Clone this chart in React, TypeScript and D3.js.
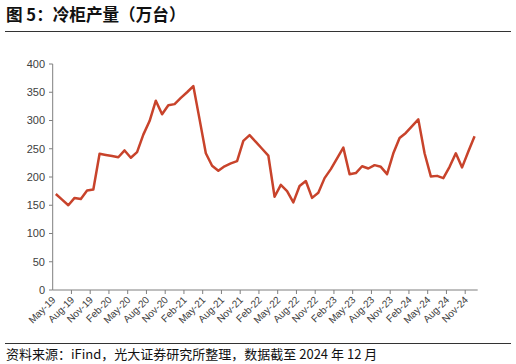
import { useEffect, useRef } from "react";
import * as d3 from "d3";

// monthly output, May-19 .. Dec-24 (万台)
const months: string[] = [];
const monthNames = ["Jan", "Feb", "Mar", "Apr", "May", "Jun", "Jul", "Aug", "Sep", "Oct", "Nov", "Dec"];
for (let y = 2019; y <= 2024; y++) {
  for (let m = 0; m < 12; m++) {
    if (y === 2019 && m < 4) continue;
    months.push(`${monthNames[m]}-${String(y).slice(2)}`);
  }
}

const values = [
  170, 160, 150, 163, 161, 176, 178, 241, 239, 237, 235, 247, 234, 244,
  275, 299, 335, 311, 327, 329, 340, 350, 361, 302, 242, 220, 211, 219,
  224, 228, 264, 274, 262, 250, 238, 165, 186, 175, 155, 184, 193, 163,
  172, 198, 214, 233, 252, 205, 207, 219, 215, 221, 218, 205, 242, 269,
  278, 290, 302, 242, 201, 202, 198, 218, 242, 217, 245, 272,
];

const yTicks = [0, 50, 100, 150, 200, 250, 300, 350, 400];

const title = "图 5：冷柜产量（万台）";
const source = "资料来源：iFind，光大证券研究所整理，数据截至 2024 年 12 月";

const W = 516;
const H = 364;
const font = "'Liberation Sans', Arial, sans-serif";

export default function App() {
  const ref = useRef<SVGSVGElement>(null);

  useEffect(() => {
    const svg = d3.select(ref.current);
    svg.selectAll("*").remove();

    const x = d3.scaleBand<string>().domain(months).range([52.7, 477.7]);
    const y = d3.scaleLinear().domain([0, 400]).range([290, 64]);

    // header
    svg
      .append("text")
      .attr("x", 6)
      .attr("y", 21)
      .attr("font-family", "'Noto Sans CJK SC', sans-serif")
      .attr("font-size", 16.6)
      .attr("font-weight", "bold")
      .attr("fill", "#111")
      .text(title);
    svg
      .append("line")
      .attr("x1", 5)
      .attr("x2", 511)
      .attr("y1", 31.5)
      .attr("y2", 31.5)
      .attr("stroke", "#333")
      .attr("stroke-width", 1);

    // y axis
    const gy = svg.append("g");
    gy.append("line")
      .attr("x1", 52.7)
      .attr("x2", 52.7)
      .attr("y1", y(400))
      .attr("y2", y(0))
      .attr("stroke", "#7f7f7f");
    yTicks.forEach((t) => {
      gy.append("line")
        .attr("x1", 49)
        .attr("x2", 52.7)
        .attr("y1", y(t))
        .attr("y2", y(t))
        .attr("stroke", "#7f7f7f");
      gy.append("text")
        .attr("x", 45)
        .attr("y", y(t))
        .attr("dy", "0.35em")
        .attr("text-anchor", "end")
        .attr("font-family", font)
        .attr("font-size", 11)
        .attr("fill", "#404040")
        .text(t);
    });

    // x axis
    const gx = svg.append("g");
    gx.append("line")
      .attr("x1", 52.7)
      .attr("x2", 477.7)
      .attr("y1", y(0))
      .attr("y2", y(0))
      .attr("stroke", "#7f7f7f");
    months.forEach((m, i) => {
      if (i % 3 !== 0) return;
      const xs = x(m)!;
      if (i > 0) {
        gx.append("line")
          .attr("x1", xs)
          .attr("x2", xs)
          .attr("y1", y(0))
          .attr("y2", y(0) + 4)
          .attr("stroke", "#7f7f7f");
      }
      gx.append("text")
        .attr("transform", `translate(${xs + x.bandwidth() / 2 - 2},${y(0) + 8}) rotate(-45)`)
        .attr("text-anchor", "end")
        .attr("dy", "0.35em")
        .attr("font-family", font)
        .attr("font-size", 10)
        .attr("fill", "#404040")
        .text(m);
    });

    // line
    const line = d3
      .line<number>()
      .x((_, i) => x(months[i])! + x.bandwidth() / 2)
      .y((d) => y(d));
    svg
      .append("path")
      .datum(values)
      .attr("d", line)
      .attr("fill", "none")
      .attr("stroke", "#C8432B")
      .attr("stroke-width", 2.5)
      .attr("stroke-linejoin", "round");

    // footer
    svg
      .append("line")
      .attr("x1", 5)
      .attr("x2", 511)
      .attr("y1", 343.5)
      .attr("y2", 343.5)
      .attr("stroke", "#333")
      .attr("stroke-width", 1);
    svg
      .append("text")
      .attr("x", 6)
      .attr("y", 359)
      .attr("font-family", "'Noto Sans CJK SC', sans-serif")
      .attr("font-size", 13)
      .attr("fill", "#111")
      .text(source);
  }, []);

  return (
    <div style={{ position: "absolute", left: 0, top: 0 }}>
      <svg ref={ref} width={W} height={H} style={{ display: "block", background: "#fff" }} />
    </div>
  );
}
